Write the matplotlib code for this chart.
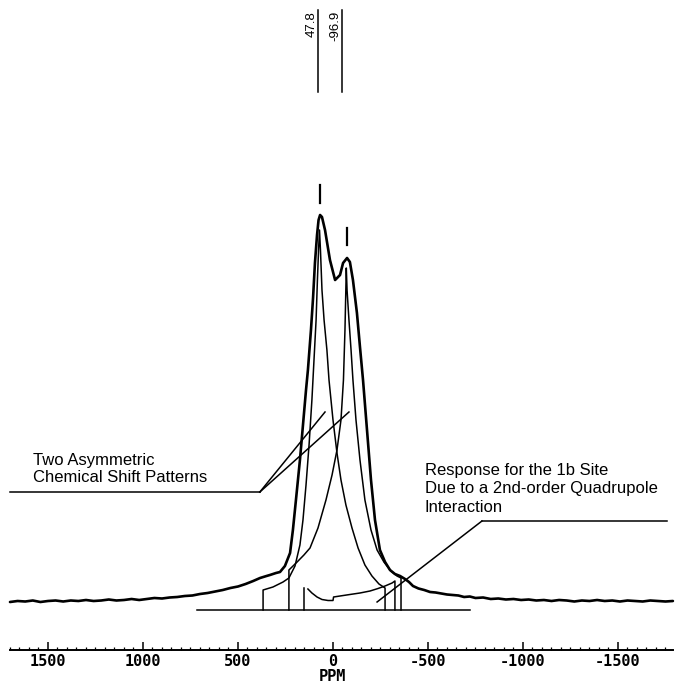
import matplotlib
matplotlib.use("Agg")
import matplotlib.pyplot as plt
from matplotlib.ticker import FixedLocator

# ---------------- data (ppm, relative intensity) ----------------
# overall measured spectrum (thick line)
env_ppm = [1700, 1660, 1620, 1580, 1540, 1500, 1460, 1420, 1380, 1340, 1300, 1260,
           1220, 1180, 1140, 1100, 1060, 1020, 980, 940, 900, 860, 820, 780, 740,
           700, 660, 620, 580, 540, 500, 460, 420, 384, 350, 332, 300, 279, 253,
           226, 211, 195, 174, 158, 142, 132, 116, 105, 95, 84, 76, 68, 58, 42,
           16, -11, -37, -53, -74, -89, -105, -126, -142, -158, -179, -200, -221,
           -247, -274, -300, -326, -353, -379, -400, -421, -450, -480, -511, -540,
           -570, -600, -630, -660, -690, -720, -750, -790, -830, -870, -910, -950,
           -990, -1030, -1070, -1110, -1150, -1190, -1230, -1270, -1310, -1350,
           -1390, -1430, -1470, -1510, -1550, -1590, -1630, -1670, -1710, -1750, -1789]
env_int = [-1, 0, -0.5, 0.5, -1, 0, 0.5, -0.5, 0.5, 0, 1, 0,
           0.5, 1.5, 0.5, 1, 2, 1, 2, 3, 2.5, 3.5, 4, 5, 5.5,
           7, 8, 9.5, 11, 13, 14.5, 17, 20, 23, 25, 26, 28, 29, 35,
           48, 71, 101, 141, 176, 211, 231, 271, 303, 338, 366, 381, 386, 384, 371,
           341, 321, 326, 338, 343, 339, 321, 288, 254, 221, 171, 121, 81,
           51, 39, 31, 27, 25, 22, 19, 15, 12.5, 11, 9, 8.5,
           7.5, 6.5, 6, 5.5, 4, 4.5, 3, 3.5, 2, 2.5, 1.5, 2,
           1, 1.5, 0.5, 1, 0, 1, 0.5, -0.5, 0.5, 0,
           1, 0, 0.5, -0.5, 0.5, 0, -0.5, 0.5, 0, -0.5, 0]

# first asymmetric chemical shift pattern
p1_ppm = [368, 368, 316, 263, 232, 200, 174, 158, 142, 126, 111, 100, 89, 82, 76, 71,
          66, 58, 47, 32, 21, 0, -21, -42, -68, -100, -132, -168, -205, -242, -274, -274]
p1_int = [-9, 11, 14, 19, 23, 35, 56, 81, 116, 156, 201, 241, 281, 321, 351, 371,
          351, 311, 281, 251, 221, 181, 148, 121, 96, 73, 53, 36, 25, 17, 13, -9]

# second asymmetric chemical shift pattern
p2_ppm = [232, 232, 189, 153, 121, 79, 37, 5, -21, -42, -55, -63, -67, -70,
          -74, -84, -95, -105, -121, -142, -168, -200, -232, -268, -305, -337, -358, -358]
p2_int = [-9, 31, 39, 46, 53, 73, 101, 126, 151, 181, 221, 271, 306, 333,
          311, 281, 251, 221, 181, 141, 101, 71, 51, 39, 30, 25, 23, -9]

# 2nd-order quadrupole response of the 1b site
q_edge_ppm = [153, 153]
q_edge_int = [-9, 13]
q_ppm = [132, 111, 84, 58, 26, 0, -3, -37, -89, -142, -195, -237, -274, -311, -326, -326]
q_int = [12, 8, 4, 1.5, 0.5, 0.5, 4, 5, 6.5, 8, 10, 12.5, 15, 18, 20, -9]

# simulated-pattern baseline
sim_base_ppm = [716, -721]
sim_base_int = [-9, -9]

# peak markers and reference lines
marker_ppm = [68, -74]
marker_lo = [398, 356]
marker_hi = [416, 373]
ref_ppm = [79, -47]
ref_labels = ["47.8", "-96.9"]
ref_label_ppm = [113, -13]

major_ticks = [1500, 1000, 500, 0, -500, -1000, -1500]
major_labels = ["1500", "1000", "500", "0", "-500", "-1000", "-1500"]

# ---------------- figure ----------------
fig = plt.figure(figsize=(6.78, 6.86), dpi=100)
ax = fig.add_axes([0, 0, 1, 1])
ax.set_xlim(1752.6, -1815.8)
ax.set_ylim(-85, 601)

thick = dict(color="black", lw=1.9, solid_joinstyle="round", solid_capstyle="round")
thin = dict(color="black", lw=1.1, solid_joinstyle="round")

ax.plot(env_ppm, env_int, **thick)
ax.plot(p1_ppm, p1_int, **thin)
ax.plot(p2_ppm, p2_int, **thin)
ax.plot(q_edge_ppm, q_edge_int, **thin)
ax.plot(q_ppm, q_int, **thin)
ax.plot(sim_base_ppm, sim_base_int, **thin)

for xp, lo, hi in zip(marker_ppm, marker_lo, marker_hi):
    ax.plot([xp, xp], [lo, hi], color="black", lw=1.6)

for xp, lx, lab in zip(ref_ppm, ref_label_ppm, ref_labels):
    ax.plot([xp, xp], [509, 591], color="black", lw=1.1)
    ax.text(lx, 590, lab, rotation=90, ha="center", va="top", fontsize=9.5,
            family="Liberation Sans")

# annotations
tf = dict(fontsize=12, family="Liberation Sans", ha="left", va="center")
ax.text(1579, 141, "Two Asymmetric", **tf)
ax.text(1579, 123, "Chemical Shift Patterns", **tf)
ax.plot([1700, 385], [109, 109], **thin)
ax.plot([385, 42], [109, 189], **thin)
ax.plot([385, -84], [109, 189], **thin)

ax.text(-484, 130, "Response for the 1b Site", **tf)
ax.text(-484, 112, "Due to a 2nd-order Quadrupole", **tf)
ax.text(-484, 94, "Interaction", **tf)
ax.plot([-1758, -784], [80, 80], **thin)
ax.plot([-784, -232], [80, -1], **thin)

# ppm axis
for s in ["top", "left", "right"]:
    ax.spines[s].set_visible(False)
ax.yaxis.set_visible(False)
ax.spines["bottom"].set_position(("data", -49))
ax.spines["bottom"].set_bounds(1700, -1790)
ax.spines["bottom"].set_linewidth(1.4)
ax.set_xticks(major_ticks)
ax.set_xticklabels(major_labels)
ax.xaxis.set_minor_locator(FixedLocator([v for v in range(-1750, 1701, 50) if v % 500 != 0]))
ax.tick_params(axis="x", which="major", direction="in", length=5.8, width=1.1, pad=3,
               labelsize=11)
ax.tick_params(axis="x", which="minor", direction="in", length=2.3, width=0.9)
for t in ax.get_xticklabels():
    t.set_family("DejaVu Sans Mono")
    t.set_fontweight("bold")
ax.set_xlabel("PPM", family="DejaVu Sans Mono", fontsize=11, fontweight="bold", labelpad=0)
ax.xaxis.label.set_x(0.491)

fig.savefig("out.png", dpi=100)
